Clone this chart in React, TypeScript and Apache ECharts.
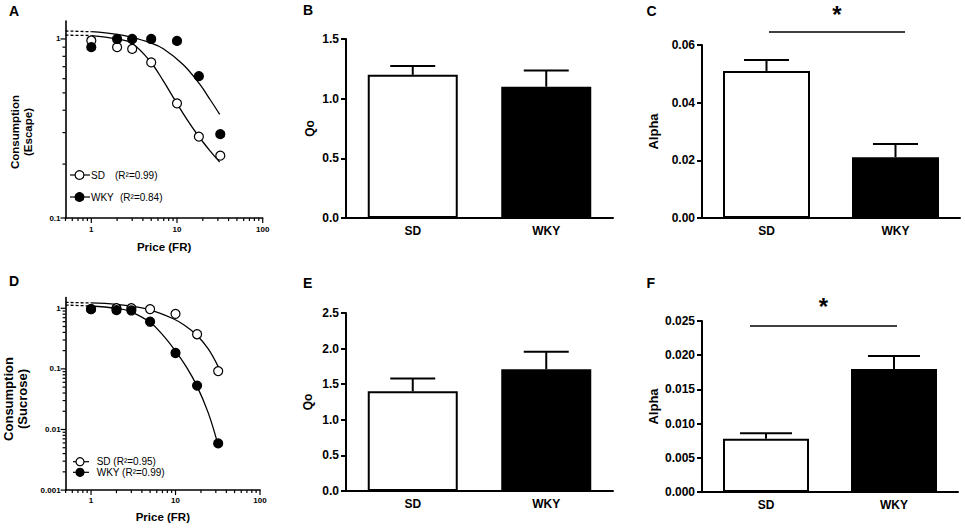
import React, { useEffect, useRef } from "react";
import * as echarts from "echarts";

// ---------- data ----------
const categories = ["SD", "WKY"];

const prices = [1, 2, 3, 5, 10, 18, 32];
const escapeSD = [0.98, 0.9, 0.88, 0.74, 0.437, 0.285, 0.223];
const escapeWKY = [0.9, 1.0, 1.0, 1.0, 0.975, 0.62, 0.294];
const sucroseSD = [0.97, 1.0, 1.0, 0.97, 0.81, 0.373, 0.092];
const sucroseWKY = [0.97, 0.93, 0.92, 0.6, 0.183, 0.053, 0.0059];

const fitEscapeSD = [[1, 1.045], [2, 1.0], [3, 0.944], [4.93, 0.744], [6.92, 0.583], [9.66, 0.448], [13, 0.357], [17.7, 0.288], [24.3, 0.237], [31.5, 0.205]];
const fitEscapeWKY = [[1, 1.098], [2, 1.062], [2.83, 1.027], [4.93, 0.949], [6.92, 0.882], [11.85, 0.718], [18.5, 0.557], [24.3, 0.459], [31.5, 0.379]];
const dashEscapeSD = [[0.5, 1.05], [1, 1.045]];
const dashEscapeWKY = [[0.5, 1.108], [1, 1.098]];

const fitSucroseSD = [[1, 1.223], [2, 1.164], [2.89, 1.095], [4.99, 0.941], [9.42, 0.671], [12.9, 0.52], [17.8, 0.363], [24.4, 0.214], [32, 0.109]];
const fitSucroseWKY = [[1, 1.091], [2, 1.0], [2.89, 0.892], [4.99, 0.588], [7.17, 0.354], [9.86, 0.202], [13.6, 0.105], [17.8, 0.0534], [24.4, 0.0188], [31.4, 0.006]];
const dashSucroseSD = [[0.5, 1.25], [1, 1.223]];
const dashSucroseWKY = [[0.5, 1.13], [1, 1.091]];

const qoEscape = [1.2, 1.1];
const qoEscapeSem = [0.073, 0.137];
const alphaEscape = [0.051, 0.0211];
const alphaEscapeSem = [0.0038, 0.0046];
const qoSucrose = [1.4, 1.71];
const qoSucroseSem = [0.18, 0.245];
const alphaSucrose = [0.0078, 0.018];
const alphaSucroseSem = [0.0008, 0.0019];

const legendEscape = ["(R²=0.99)", "(R²=0.84)"];
const legendSucrose = ["SD (R²=0.95)", "WKY (R²=0.99)"];

// ---------- style helpers ----------
const FONT = 'Arial, "Liberation Sans", Helvetica, sans-serif';
const BLACK = "#000";

const decadeLabel = (v: number) => {
  const l = Math.log10(v);
  const r = Math.round(l);
  if (Math.abs(l - r) > 1e-6) return "";
  return r >= 0 ? String(Math.round(v)) : v.toFixed(-r);
};

function logTicks(min: number, max: number) {
  const out: { v: number; major: boolean }[] = [];
  for (let e = -4; e <= 3; e++) {
    for (let m = 1; m <= 9; m++) {
      const v = +(m * Math.pow(10, e)).toPrecision(6);
      if (v >= min * 0.9999 && v <= max * 1.0001) out.push({ v, major: m === 1 });
    }
  }
  return out;
}

function logXAxis(gridIndex: number, min: number, max: number, nameGap: number, margin: number) {
  return {
    type: "log", logBase: 10, gridIndex, min, max,
    name: "Price (FR)", nameLocation: "middle", nameGap,
    nameTextStyle: { fontFamily: FONT, fontWeight: "bold", fontSize: 11.5, color: BLACK },
    axisLine: { show: true, onZero: false, lineStyle: { color: BLACK, width: 1.6 } },
    axisTick: { show: false },
    minorTick: { show: false },
    axisLabel: { formatter: decadeLabel, fontFamily: FONT, fontWeight: "bold", fontSize: 8, color: BLACK, margin },
    splitLine: { show: false },
  };
}

function logYAxis(gridIndex: number, min: number, max: number) {
  return {
    type: "log", logBase: 10, gridIndex, min, max,
    axisLine: { show: true, onZero: false, lineStyle: { color: BLACK, width: 1.6 } },
    axisTick: { show: false },
    minorTick: { show: false },
    axisLabel: { formatter: decadeLabel, fontFamily: FONT, fontWeight: "bold", fontSize: 8, color: BLACK, margin: 5 },
    splitLine: { show: false },
  };
}

function catAxis(gridIndex: number) {
  return {
    type: "category", gridIndex, data: categories, z: 10,
    axisLine: { show: true, onZero: false, lineStyle: { color: BLACK, width: 2 } },
    axisTick: { show: false },
    axisLabel: { fontFamily: FONT, fontWeight: "bold", fontSize: 12, color: BLACK, margin: 7 },
    splitLine: { show: false },
  };
}

function valAxis(gridIndex: number, max: number, interval: number, digits: number, name: string, nameGap: number, nameSize: number) {
  return {
    type: "value", gridIndex, min: 0, max, interval, z: 10,
    name, nameLocation: "middle", nameGap,
    nameTextStyle: { fontFamily: FONT, fontWeight: "bold", fontSize: nameSize, color: BLACK },
    axisLine: { show: true, onZero: false, lineStyle: { color: BLACK, width: 2 } },
    axisTick: { show: true, length: 5, lineStyle: { color: BLACK, width: 2 } },
    axisLabel: { formatter: (v: number) => v.toFixed(digits), fontFamily: FONT, fontWeight: "bold", fontSize: 12, color: BLACK, margin: 7 },
    splitLine: { show: false },
  };
}

function tickSeries(idx: number, axis: "x" | "y", ticks: { v: number; major: boolean }[], fixed: number) {
  return {
    type: "custom", xAxisIndex: idx, yAxisIndex: idx, silent: true, clip: false, z: 6,
    data: ticks.map((t) => (axis === "x" ? [t.v, fixed, t.major ? 1 : 0] : [fixed, t.v, t.major ? 1 : 0])),
    renderItem: (_p: any, api: any) => {
      const p = api.coord([api.value(0), api.value(1)]);
      const len = api.value(2) ? 5 : 3;
      const shape = axis === "x"
        ? { x1: p[0], y1: p[1], x2: p[0], y2: p[1] + len }
        : { x1: p[0] - len, y1: p[1], x2: p[0], y2: p[1] };
      return { type: "line", shape, style: { stroke: BLACK, lineWidth: 1.2 } };
    },
  };
}

function curveSeries(idx: number, data: number[][], dashed: boolean) {
  return {
    type: "line", xAxisIndex: idx, yAxisIndex: idx, data, silent: true,
    showSymbol: false, symbol: "none",
    smooth: dashed ? false : 0.4,
    lineStyle: { color: BLACK, width: 1.3, type: dashed ? [3, 2] : "solid" },
    z: 3,
  };
}

function pointSeries(idx: number, vals: number[], open: boolean) {
  return {
    type: "scatter", xAxisIndex: idx, yAxisIndex: idx, silent: true,
    data: prices.map((p, i) => [p, vals[i]]),
    symbol: "circle", symbolSize: 9,
    itemStyle: { color: open ? "#fff" : BLACK, borderColor: BLACK, borderWidth: 1.2, opacity: 1 },
    z: 4,
  };
}

function barSeries(idx: number, vals: number[], barWidth: number) {
  return {
    type: "bar", xAxisIndex: idx, yAxisIndex: idx, barWidth, silent: true,
    data: vals.map((v, i) => ({
      value: v,
      itemStyle: i === 0
        ? { color: "#fff", borderColor: BLACK, borderWidth: 2 }
        : { color: BLACK, borderColor: BLACK, borderWidth: 2 },
    })),
    z: 2,
  };
}

function errSeries(idx: number, means: number[], sems: number[], capHalf: number) {
  return {
    type: "custom", xAxisIndex: idx, yAxisIndex: idx, silent: true, clip: false, z: 3,
    data: means.map((m, i) => [i, m, m + sems[i]]),
    renderItem: (_p: any, api: any) => {
      const b = api.coord([api.value(0), api.value(1)]);
      const t = api.coord([api.value(0), api.value(2)]);
      return {
        type: "group",
        children: [
          { type: "line", shape: { x1: b[0], y1: b[1], x2: t[0], y2: t[1] }, style: { stroke: BLACK, lineWidth: 2 } },
          { type: "line", shape: { x1: t[0] - capHalf, y1: t[1], x2: t[0] + capHalf, y2: t[1] }, style: { stroke: BLACK, lineWidth: 2 } },
        ],
      };
    },
  };
}

function sigSeries(idx: number, level: number, dxL: number, dxR: number, starDy: number) {
  return {
    type: "custom", xAxisIndex: idx, yAxisIndex: idx, silent: true, clip: false, z: 5,
    data: [[0, level]],
    renderItem: (_p: any, api: any) => {
      const a = api.coord([0, api.value(1)]);
      const b = api.coord([1, api.value(1)]);
      const x1 = a[0] + dxL;
      const x2 = b[0] + dxR;
      return {
        type: "group",
        children: [
          { type: "line", shape: { x1, y1: a[1], x2, y2: a[1] }, style: { stroke: BLACK, lineWidth: 1.5 } },
          {
            type: "text", x: (x1 + x2) / 2, y: a[1] - starDy,
            style: { text: "*", fontFamily: FONT, fontWeight: "bold", fontSize: 24, fill: BLACK, align: "center", verticalAlign: "middle" },
          },
        ],
      };
    },
  };
}

function panelLabel(text: string, x: number, y: number) {
  return {
    type: "text", x, y,
    style: { text, fontFamily: FONT, fontWeight: "bold", fontSize: 14, fill: BLACK, align: "left", verticalAlign: "middle" },
  };
}

function legendRow(x1: number, x2: number, cx: number, y: number, r: number, open: boolean, texts: { t: string; x: number }[]) {
  return [
    { type: "line", shape: { x1, y1: y, x2, y2: y }, style: { stroke: BLACK, lineWidth: 1.2 } },
    { type: "circle", shape: { cx, cy: y, r }, style: { fill: open ? "#fff" : BLACK, stroke: BLACK, lineWidth: 1.2 } },
    ...texts.map((tt) => ({
      type: "text", x: tt.x, y,
      style: { text: tt.t, fontFamily: FONT, fontSize: 10, fill: BLACK, align: "left", verticalAlign: "middle" },
    })),
  ];
}

const grids = [
  { left: 65.5, top: 21, width: 197.2, height: 197 },
  { left: 346, top: 39, width: 267, height: 179 },
  { left: 702, top: 45, width: 258, height: 173 },
  { left: 65.6, top: 297.6, width: 194.4, height: 192.5 },
  { left: 346, top: 313, width: 267, height: 178 },
  { left: 702, top: 321, width: 256, height: 171 },
];

export default function App() {
  const ref = useRef<HTMLDivElement>(null);

  useEffect(() => {
    if (!ref.current) return;
    const chart = echarts.init(ref.current, undefined, { renderer: "svg" });
    const option: any = {
      animation: false,
      backgroundColor: "#fff",
      textStyle: { fontFamily: FONT },
      grid: grids.map((g) => ({ ...g, containLabel: false, outerBoundsMode: "none" })),
      xAxis: [
        logXAxis(0, 0.5, 100, 23, 7),
        catAxis(1),
        catAxis(2),
        logXAxis(3, 0.5, 100, 21, 6),
        catAxis(4),
        catAxis(5),
      ],
      yAxis: [
        logYAxis(0, 0.1, 1.26),
        valAxis(1, 1.5, 0.5, 1, "Qo", 30, 12),
        valAxis(2, 0.06, 0.02, 2, "Alpha", 42, 13),
        logYAxis(3, 0.001, 1.5),
        valAxis(4, 2.5, 0.5, 1, "Qo", 32, 12),
        valAxis(5, 0.025, 0.005, 3, "Alpha", 42, 13),
      ],
      series: [
        // A
        tickSeries(0, "x", logTicks(0.5, 100), 0.1),
        tickSeries(0, "y", logTicks(0.1, 1.26), 0.5),
        curveSeries(0, dashEscapeSD, true),
        curveSeries(0, dashEscapeWKY, true),
        curveSeries(0, fitEscapeSD, false),
        curveSeries(0, fitEscapeWKY, false),
        pointSeries(0, escapeSD, true),
        pointSeries(0, escapeWKY, false),
        // B
        barSeries(1, qoEscape, 90),
        errSeries(1, qoEscape, qoEscapeSem, 22.5),
        // C
        barSeries(2, alphaEscape, 87),
        errSeries(2, alphaEscape, alphaEscapeSem, 22.5),
        sigSeries(2, 0.0645, 2.5, 9.5, 18),
        // D
        tickSeries(3, "x", logTicks(0.5, 100), 0.001),
        tickSeries(3, "y", logTicks(0.001, 1.5), 0.5),
        curveSeries(3, dashSucroseSD, true),
        curveSeries(3, dashSucroseWKY, true),
        curveSeries(3, fitSucroseSD, false),
        curveSeries(3, fitSucroseWKY, false),
        pointSeries(3, sucroseSD, true),
        pointSeries(3, sucroseWKY, false),
        // E
        barSeries(4, qoSucrose, 90),
        errSeries(4, qoSucrose, qoSucroseSem, 22.5),
        // F
        barSeries(5, alphaSucrose, 86),
        errSeries(5, alphaSucrose, alphaSucroseSem, 26),
        sigSeries(5, 0.02427, -16, 3, 19.5),
      ],
      graphic: [
        panelLabel("A", 9, 11),
        panelLabel("B", 303, 10),
        panelLabel("C", 646.5, 10.5),
        panelLabel("D", 9, 281),
        panelLabel("E", 303, 283),
        panelLabel("F", 646.5, 283),
        {
          type: "text", x: 21.7, y: 132, rotation: Math.PI / 2,
          style: { text: "Consumption\n(Escape)", fontFamily: FONT, fontWeight: "bold", fontSize: 11.5, lineHeight: 12.7, fill: BLACK, align: "center", verticalAlign: "middle" },
        },
        {
          type: "text", x: 15.6, y: 399, rotation: Math.PI / 2,
          style: { text: "Consumption\n(Sucrose)", fontFamily: FONT, fontWeight: "bold", fontSize: 13, lineHeight: 13.8, fill: BLACK, align: "center", verticalAlign: "middle" },
        },
        ...legendRow(70, 90, 79.5, 175, 4.4, true, [{ t: categories[0], x: 91 }, { t: legendEscape[0], x: 115 }]),
        ...legendRow(70, 90, 79.5, 197, 4.4, false, [{ t: categories[1], x: 91 }, { t: legendEscape[1], x: 120 }]),
        ...legendRow(73, 89, 80, 461.7, 4, true, [{ t: legendSucrose[0], x: 96.7 }]),
        ...legendRow(73, 89, 80, 472.3, 4, false, [{ t: legendSucrose[1], x: 96.7 }]),
      ],
    };
    chart.setOption(option);
    return () => chart.dispose();
  }, []);

  return (
    <div
      ref={ref}
      style={{ position: "absolute", left: 0, top: 0, width: 965, height: 529, background: "#fff" }}
    />
  );
}
